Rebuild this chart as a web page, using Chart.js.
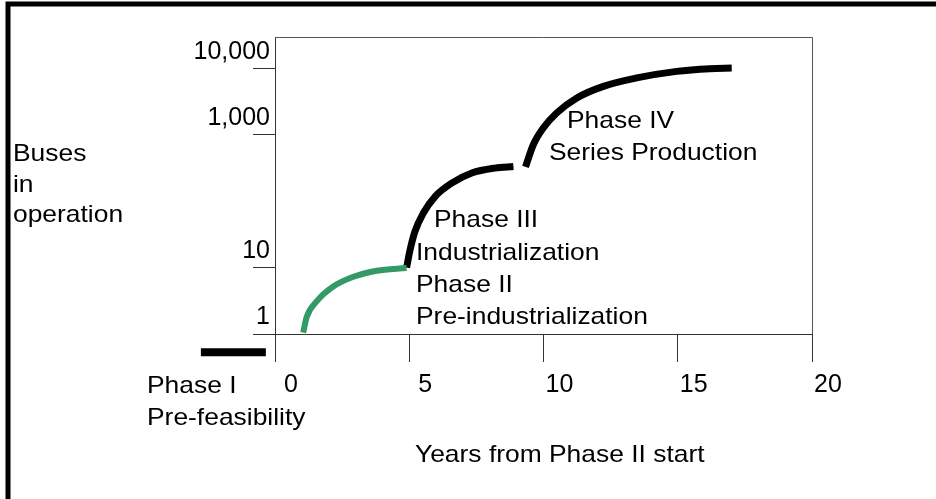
<!DOCTYPE html>
<html>
<head>
<meta charset="utf-8">
<script src="https://cdn.jsdelivr.net/npm/chart.js@4.4.1/dist/chart.umd.min.js"></script>
<style>
  html, body { margin: 0; padding: 0; background: #fff; }
  #wrap { width: 936px; height: 499px; }
</style>
</head>
<body>
<div id="wrap"><canvas id="busChart"></canvas></div>
<script>
// axis ticks
const xTicks = [0, 5, 10, 15, 20];
const yTicks = [1, 10, 1000, 10000];
const yTickLabels = ['1', '10', '1,000', '10,000'];

// phases (years from phase II start, buses in operation)
const phase1X = [-2.76, -0.34];
const phase1Y = [0.53, 0.53];
const phase2X = [1.05, 1.18, 1.55, 2.17, 2.92, 3.79, 4.9];
const phase2Y = [1.05, 1.8, 3.1, 5.2, 7.3, 9.0, 9.9];
const phase3X = [4.9, 5.03, 5.21, 5.52, 5.96, 6.58, 7.33, 8.19, 8.88];
const phase3Y = [10, 18.5, 35, 66, 118, 188, 267, 317, 335];
const phase4X = [9.33, 9.62, 9.99, 10.49, 11.24, 12.23, 13.47, 14.96, 16.2, 17.01];
const phase4Y = [330, 713, 1274, 2144, 3614, 5408, 7244, 9104, 10000, 10230];

const pts = (xs, ys) => xs.map((x, i) => ({ x: x, y: ys[i] }));

const FONT = '"Liberation Sans", Arial, sans-serif';
Chart.defaults.font.family = FONT;
Chart.defaults.color = '#000';

const notes = [
    ['Buses', 13, 161],
    ['in', 13, 192],
    ['operation', 13, 222],
    ['Phase I', 147, 393],
    ['Pre-feasibility', 147, 425],
    ['Years from Phase II start', 415, 462],
    ['Phase III', 434, 227],
    ['Industrialization', 416, 260],
    ['Phase II', 416, 292],
    ['Pre-industrialization', 416, 324],
    ['Phase IV', 567, 128],
    ['Series Production', 549, 160]
];

const framePlugin = {
    id: 'frame',
    afterDraw(chart) {
        const ctx = chart.ctx;
        const a = chart.chartArea;
        ctx.save();
        // outer frame, left and top only
        ctx.strokeStyle = '#000';
        ctx.lineWidth = 5;
        ctx.beginPath();
        ctx.moveTo(8, chart.height);
        ctx.lineTo(8, 4);
        ctx.lineTo(chart.width, 4);
        ctx.stroke();

        // top and right side of the plot box
        ctx.lineWidth = 1;
        ctx.strokeStyle = '#555';
        ctx.beginPath();
        ctx.moveTo(a.left, Math.round(a.top) + 0.5);
        ctx.lineTo(Math.round(a.right) + 0.5, Math.round(a.top) + 0.5);
        ctx.lineTo(Math.round(a.right) + 0.5, a.bottom);
        ctx.stroke();

        ctx.fillStyle = '#000';
        ctx.font = '24px ' + FONT;
        ctx.textBaseline = 'alphabetic';
        ctx.textAlign = 'left';
        notes.forEach(function (n) {
            ctx.save();
            ctx.translate(n[1], n[2]);
            ctx.scale(1.1, 1);
            ctx.fillText(n[0], 0, 0);
            ctx.restore();
        });
        ctx.restore();
    }
};

const lineStyle = {
    pointRadius: 0,
    borderCapStyle: 'butt',
    cubicInterpolationMode: 'monotone',
    fill: false
};

new Chart(document.getElementById('busChart'), {
    type: 'line',
    data: {
        datasets: [
            Object.assign({ label: 'Phase I', data: pts(phase1X, phase1Y), borderColor: '#000', borderWidth: 8, clip: false }, lineStyle),
            Object.assign({ label: 'Phase II', data: pts(phase2X, phase2Y), borderColor: '#339966', borderWidth: 6 }, lineStyle),
            Object.assign({ label: 'Phase III', data: pts(phase3X, phase3Y), borderColor: '#000', borderWidth: 7 }, lineStyle),
            Object.assign({ label: 'Phase IV', data: pts(phase4X, phase4Y), borderColor: '#000', borderWidth: 7 }, lineStyle)
        ]
    },
    options: {
        responsive: true,
        maintainAspectRatio: false,
        animation: false,
        layout: {
            padding: { left: 0, right: 124, top: 37, bottom: 0 }
        },
        plugins: {
            legend: { display: false },
            tooltip: { enabled: false }
        },
        scales: {
            x: {
                type: 'linear',
                position: 'bottom',
                min: 0,
                max: 20,
                afterBuildTicks: function (scale) {
                    scale.ticks = xTicks.map(v => ({ value: v }));
                },
                afterFit: function (scale) {
                    scale.height = 165;
                },
                ticks: {
                    autoSkip: false,
                    maxRotation: 0,
                    font: { size: 25 },
                    color: '#000',
                    padding: 8,
                    labelOffset: 16
                },
                grid: {
                    drawOnChartArea: false,
                    drawTicks: true,
                    tickLength: 28,
                    color: '#333'
                },
                border: { color: '#333', width: 1 }
            },
            y: {
                type: 'logarithmic',
                position: 'left',
                min: 1,
                max: 30000,
                afterBuildTicks: function (scale) {
                    scale.ticks = yTicks.map(v => ({ value: v }));
                },
                afterFit: function (scale) {
                    scale.width = 275;
                },
                ticks: {
                    autoSkip: false,
                    font: { size: 25 },
                    color: '#000',
                    padding: -17,
                    labelOffset: -17,
                    callback: function (value, index) {
                        return yTickLabels[index];
                    }
                },
                grid: {
                    drawOnChartArea: false,
                    drawTicks: true,
                    tickLength: 22,
                    color: '#333'
                },
                border: { color: '#333', width: 1 }
            }
        }
    },
    plugins: [framePlugin]
});
</script>
</body>
</html>
